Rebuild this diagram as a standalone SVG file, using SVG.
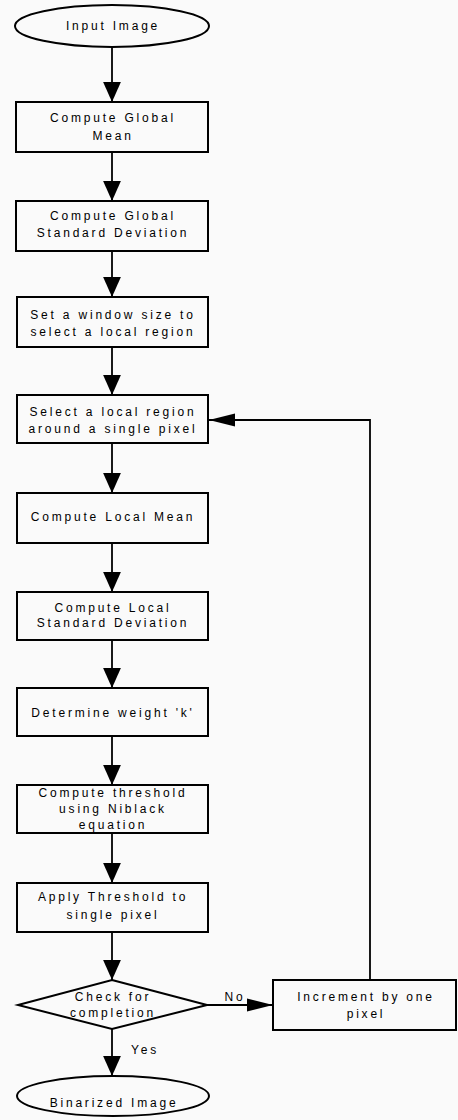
<svg xmlns="http://www.w3.org/2000/svg" width="458" height="1120" viewBox="0 0 458 1120">
<defs>
<style>
.box{fill:#fafafa;stroke:#000;stroke-width:2}
.t{font-family:"Liberation Sans",Arial,sans-serif;font-size:12px;letter-spacing:2.8px;fill:#000;text-anchor:middle}
.c{fill:none;stroke:#000;stroke-width:1.8}
</style>
<marker id="av" markerUnits="userSpaceOnUse" markerWidth="20" markerHeight="20" viewBox="0 0 18 16" refX="18" refY="8" orient="auto">
<path d="M0,0 L18,8 L0,16 Z" fill="#000"/>
</marker>
<marker id="ah" markerUnits="userSpaceOnUse" markerWidth="26" markerHeight="14" viewBox="0 0 24 12" refX="24" refY="6" orient="auto">
<path d="M0,0 L24,6 L0,12 Z" fill="#000"/>
</marker>
</defs>
<rect width="458" height="1120" fill="#fafafa"/>
<g id="connectors">
<line class="c" x1="112" y1="47" x2="112" y2="102" marker-end="url(#av)"/>
<line class="c" x1="112" y1="152" x2="112" y2="201" marker-end="url(#av)"/>
<line class="c" x1="112" y1="251" x2="112" y2="297" marker-end="url(#av)"/>
<line class="c" x1="112" y1="347" x2="112" y2="395" marker-end="url(#av)"/>
<line class="c" x1="112" y1="443" x2="112" y2="493" marker-end="url(#av)"/>
<line class="c" x1="112" y1="543" x2="112" y2="592" marker-end="url(#av)"/>
<line class="c" x1="112" y1="640" x2="112" y2="688" marker-end="url(#av)"/>
<line class="c" x1="112" y1="736" x2="112" y2="785" marker-end="url(#av)"/>
<line class="c" x1="112" y1="833" x2="112" y2="883" marker-end="url(#av)"/>
<line class="c" x1="112" y1="932" x2="112" y2="980" marker-end="url(#av)"/>
<line class="c" x1="112" y1="1029" x2="112" y2="1076" marker-end="url(#av)"/>
<line class="c" x1="207" y1="1005" x2="273" y2="1005" marker-end="url(#ah)"/>
<polyline class="c" points="370,980 370,420 209,420" marker-end="url(#ah)"/>
<text class="t" x="235" y="1001">No</text>
<text class="t" x="145" y="1054">Yes</text>
</g>
<g id="n_input">
<ellipse class="box" cx="112" cy="26" rx="97" ry="21"/>
<text class="t" x="113" y="30">Input Image</text>
</g>
<g id="n_gmean">
<rect class="box" x="16" y="102" width="192" height="50"/>
<text class="t" x="113" y="122">Compute Global</text>
<text class="t" x="113" y="140">Mean</text>
</g>
<g id="n_gstd">
<rect class="box" x="16" y="201" width="192" height="50"/>
<text class="t" x="113" y="220">Compute Global</text>
<text class="t" x="113" y="237">Standard Deviation</text>
</g>
<g id="n_window">
<rect class="box" x="17" y="297" width="191" height="50"/>
<text class="t" x="113" y="319">Set a window size to</text>
<text class="t" x="113" y="336">select a local region</text>
</g>
<g id="n_select">
<rect class="box" x="17" y="395" width="191" height="48"/>
<text class="t" x="113" y="416">Select a local region</text>
<text class="t" x="113" y="433">around a single pixel</text>
</g>
<g id="n_lmean">
<rect class="box" x="17" y="493" width="191" height="50"/>
<text class="t" x="113" y="521">Compute Local Mean</text>
</g>
<g id="n_lstd">
<rect class="box" x="17" y="592" width="191" height="48"/>
<text class="t" x="113" y="612">Compute Local</text>
<text class="t" x="113" y="627">Standard Deviation</text>
</g>
<g id="n_weight">
<rect class="box" x="17" y="688" width="191" height="48"/>
<text class="t" x="113" y="717">Determine weight 'k'</text>
</g>
<g id="n_thresh">
<rect class="box" x="17" y="785" width="191" height="48"/>
<text class="t" x="113" y="797">Compute threshold</text>
<text class="t" x="113" y="813">using Niblack</text>
<text class="t" x="113" y="829">equation</text>
</g>
<g id="n_apply">
<rect class="box" x="17" y="883" width="191" height="49"/>
<text class="t" x="113" y="901">Apply Threshold to</text>
<text class="t" x="113" y="919">single pixel</text>
</g>
<g id="n_check">
<polygon class="box" points="112,980 207,1005 112,1029 18,1005"/>
<text class="t" x="113" y="1001">Check for</text>
<text class="t" x="113" y="1017">completion</text>
</g>
<g id="n_incr">
<rect class="box" x="273" y="980" width="183" height="50"/>
<text class="t" x="366" y="1001">Increment by one</text>
<text class="t" x="366" y="1018">pixel</text>
</g>
<g id="n_output">
<ellipse class="box" cx="113" cy="1096" rx="96" ry="20"/>
<text class="t" x="114" y="1107">Binarized Image</text>
</g>
</svg>
